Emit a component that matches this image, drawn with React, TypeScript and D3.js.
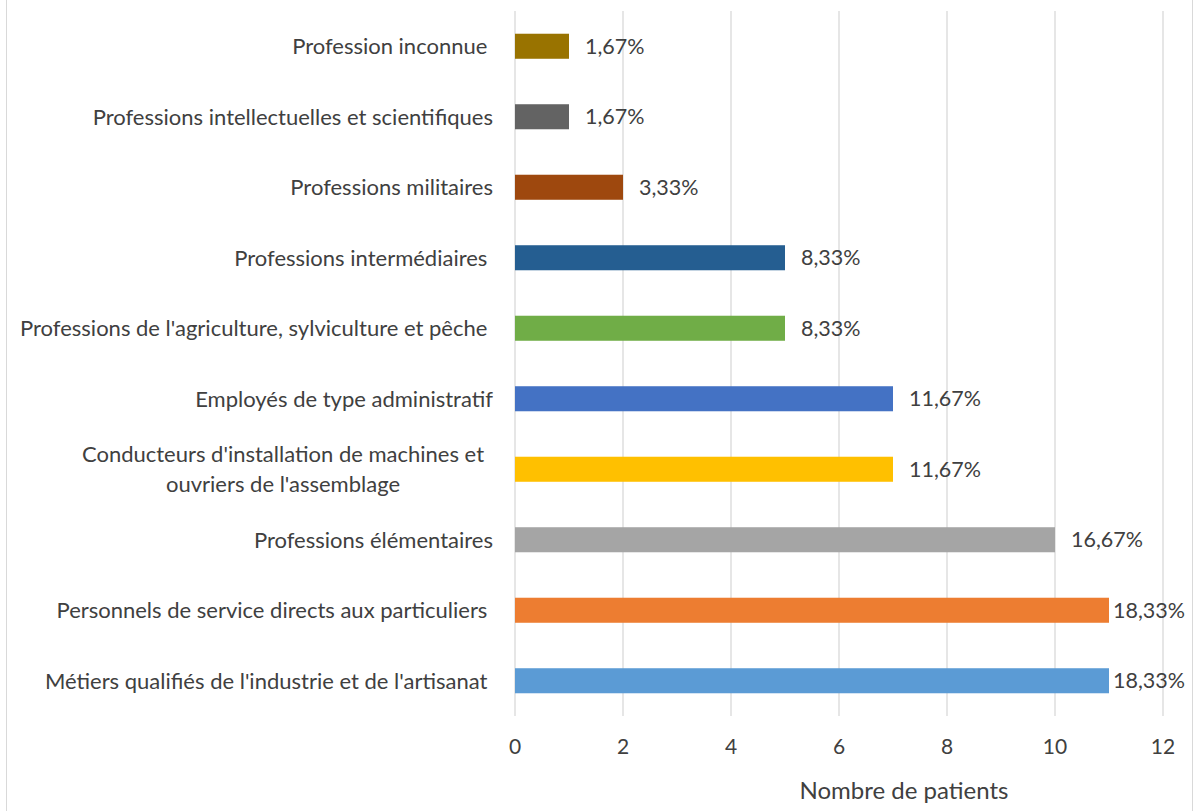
import React, { useEffect, useRef } from 'react';
import * as d3 from 'd3';

const categories = [
  'Métiers qualifiés de l\'industrie et de l\'artisanat ',
  'Personnels de service directs aux particuliers ',
  'Professions élémentaires',
  'Conducteurs d\'installation de machines et|ouvriers de l\'assemblage',
  'Employés de type administratif',
  'Professions de l\'agriculture, sylviculture et pêche ',
  'Professions intermédiaires ',
  'Professions militaires',
  'Professions intellectuelles et scientifiques',
  'Profession inconnue ',
];
const counts = [11, 11, 10, 7, 7, 5, 5, 2, 1, 1];
const percentLabels = ['18,33%', '18,33%', '16,67%', '11,67%', '11,67%', '8,33%', '8,33%', '3,33%', '1,67%', '1,67%'];
const colors = ['#5B9BD5', '#ED7D31', '#A5A5A5', '#FFC000', '#4472C4', '#70AD47', '#255E91', '#9E480E', '#636363', '#997300'];
const xTicks = [0, 2, 4, 6, 8, 10, 12];

const W = 1195;
const H = 811;
const FONT = 'Lato, "Open Sans", sans-serif';

const App: React.FC = () => {
  const svgRef = useRef<SVGSVGElement | null>(null);

  useEffect(() => {
    const svg = d3.select(svgRef.current);
    svg.selectAll('*').remove();

    const x = d3.scaleLinear().domain([0, 12]).range([515, 1163]);
    // top of chart is the last category
    const y = d3.scaleBand<string>()
      .domain(categories.slice().reverse())
      .range([11, 716])
      .paddingInner(0.645)
      .paddingOuter(0.3225);

    svg.append('rect')
      .attr('x', 0).attr('y', 0).attr('width', W).attr('height', H)
      .attr('fill', '#fff');
    svg.append('rect')
      .attr('x', 6.5).attr('y', -2).attr('width', 1186).attr('height', H + 4)
      .attr('fill', 'none').attr('stroke', '#d9d9d9');

    // gridlines
    svg.append('g').selectAll('line')
      .data(xTicks)
      .enter().append('line')
      .attr('x1', d => x(d)).attr('x2', d => x(d))
      .attr('y1', 11).attr('y2', 716)
      .attr('stroke', '#d9d9d9').attr('stroke-width', 1.3);

    const rows = categories.map((c, i) => ({ c, v: counts[i], p: percentLabels[i], color: colors[i] }));

    svg.append('g').selectAll('rect')
      .data(rows)
      .enter().append('rect')
      .attr('x', x(0))
      .attr('y', d => y(d.c)!)
      .attr('width', d => x(d.v) - x(0))
      .attr('height', y.bandwidth())
      .attr('fill', d => d.color);

    // data labels
    svg.append('g').selectAll('text')
      .data(rows)
      .enter().append('text')
      .attr('x', d => Math.min(x(d.v) + 16, 1113))
      .attr('y', d => y(d.c)! + y.bandwidth() / 2)
      .attr('dy', '0.36em')
      .attr('font-family', FONT).attr('font-size', 21.5)
      .attr('fill', '#404040')
      .text(d => d.p);

    // category labels
    const lab = svg.append('g').selectAll('text')
      .data(rows)
      .enter().append('text')
      .attr('font-family', FONT).attr('font-size', 22)
      .attr('fill', '#404040')
      .style('white-space', 'pre')
      .attr('text-anchor', d => d.c.includes('|') ? 'middle' : 'end')
      .attr('y', d => y(d.c)! + y.bandwidth() / 2);
    lab.each(function (d) {
      const parts = d.c.split('|');
      const t = d3.select(this);
      const cy = y(d.c)! + y.bandwidth() / 2;
      parts.forEach((p, j) => {
        t.append('tspan')
          .attr('x', d.c.includes('|') ? 283 : 493)
          .attr('y', cy + (j - (parts.length - 1) / 2) * 30)
          .attr('dy', '0.36em')
          .text(p);
      });
    });

    // tick labels
    svg.append('g').selectAll('text')
      .data(xTicks)
      .enter().append('text')
      .attr('x', d => x(d))
      .attr('y', 746)
      .attr('dy', '0.36em')
      .attr('text-anchor', 'middle')
      .attr('font-family', FONT).attr('font-size', 21)
      .attr('fill', '#404040')
      .text(d => d);

    svg.append('text')
      .attr('x', 904).attr('y', 790).attr('dy', '0.36em')
      .attr('text-anchor', 'middle')
      .attr('font-family', FONT).attr('font-size', 24)
      .attr('fill', '#404040')
      .text('Nombre de patients');
  }, []);

  return (
    <svg ref={svgRef} width={W} height={H}
      style={{ position: 'absolute', left: 0, top: 0, display: 'block' }} />
  );
};

export default App;
